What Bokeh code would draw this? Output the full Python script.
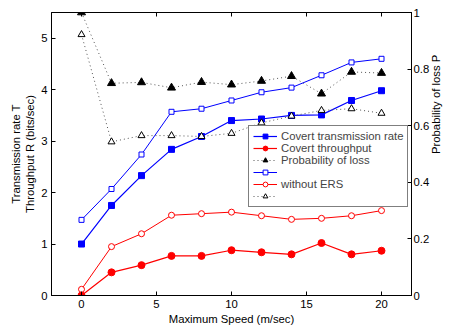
import math
from bokeh.plotting import figure
from bokeh.models import (Range1d, LinearAxis, FixedTicker, Legend, LegendItem, Label)
from bokeh.embed import file_html
from bokeh.resources import INLINE

# ---- data ----
speed = [0, 2, 4, 6, 8, 10, 12, 14, 16, 18, 20]
trans_ers = [1.00, 1.75, 2.33, 2.84, 3.09, 3.40, 3.43, 3.50, 3.51, 3.79, 3.98]
thr_ers = [0.00, 0.45, 0.59, 0.77, 0.77, 0.88, 0.84, 0.80, 1.02, 0.80, 0.87]
loss_ers = [1.00, 0.750, 0.753, 0.734, 0.754, 0.745, 0.758, 0.775, 0.713, 0.790, 0.786]
trans_no = [1.47, 2.07, 2.74, 3.57, 3.63, 3.79, 3.95, 4.04, 4.28, 4.53, 4.60]
thr_no = [0.12, 0.95, 1.20, 1.56, 1.59, 1.62, 1.55, 1.48, 1.50, 1.55, 1.65]
loss_no = [0.922, 0.543, 0.565, 0.565, 0.562, 0.573, 0.610, 0.634, 0.654, 0.660, 0.644]

x_ticks = [0, 5, 10, 15, 20]
y_ticks = [0, 1, 2, 3, 4, 5]
prob_ticks = [0, 0.2, 0.4, 0.6, 0.8, 1]
prob_labels = ["0", "0.2", "0.4", "0.6", "0.8", "1"]

legend_labels = ["Covert transmission rate", "Covert throughput", "Probability of loss",
                 "", "without ERS", ""]

FONT = "Liberation Sans"
FS = "11.3px"

p = figure(width=451, height=329, x_range=Range1d(-2, 22), y_range=Range1d(0, 5.5),
           output_backend="svg", toolbar_location=None,
           min_border_left=51, min_border_right=40, min_border_top=12, min_border_bottom=34)
p.extra_y_ranges = {"prob": Range1d(0, 1)}
p.grid.visible = False
p.outline_line_color = "black"
p.outline_line_width = 1
p.background_fill_color = "white"
p.border_fill_color = "white"

def style_axis(ax):
    ax.major_tick_in = 4
    ax.major_tick_out = 0
    ax.minor_tick_line_color = None
    ax.axis_line_color = "black"
    ax.major_tick_line_color = "black"
    ax.major_label_text_font = FONT
    ax.major_label_text_font_size = FS
    ax.major_label_text_color = "black"
    ax.axis_label_text_font = FONT
    ax.axis_label_text_font_size = FS
    ax.axis_label_text_font_style = "normal"
    ax.axis_label_text_color = "black"

xa = p.xaxis[0]
style_axis(xa)
xa.ticker = FixedTicker(ticks=x_ticks)
xa.axis_label = "Maximum Speed (m/sec)"
xa.major_label_standoff = 4
xa.axis_label_standoff = 2

ya = p.yaxis[0]
style_axis(ya)
ya.ticker = FixedTicker(ticks=y_ticks)
ya.axis_label = "Transmission rate T\nThroughput R (bits/sec)"
ya.major_label_standoff = 4
ya.axis_label_standoff = 2

top = LinearAxis(ticker=FixedTicker(ticks=x_ticks))
style_axis(top)
top.major_label_overrides = {t: "" for t in x_ticks}
top.major_label_standoff = 0
p.add_layout(top, "above")

ra = LinearAxis(y_range_name="prob", ticker=FixedTicker(ticks=prob_ticks))
style_axis(ra)
ra.major_label_overrides = {t: l for t, l in zip(prob_ticks, prob_labels)}
ra.major_label_standoff = 2
if "axis_label_orientation" in LinearAxis.properties():
    ra.axis_label = "Probability of loss P"
    ra.axis_label_orientation = math.pi / 2
    ra.axis_label_standoff = 4
else:
    rlab = Label(x=24.15, y=2.75, text="Probability of loss P", angle=math.pi / 2,
                 text_align="center", text_baseline="middle",
                 text_font=FONT, text_font_size=FS, text_color="black")
    p.add_layout(rlab)
p.add_layout(ra, "right")

BLUE = "#0000ff"
RED = "#ff0000"
DOT = "#555555"

# with ERS
l1 = p.line(speed, trans_ers, line_color=BLUE, line_width=1.2)
m1 = p.scatter(speed, trans_ers, marker="square", size=6, fill_color=BLUE, line_color=BLUE)
l2 = p.line(speed, thr_ers, line_color=RED, line_width=1.2)
m2 = p.scatter(speed, thr_ers, marker="circle", size=7, fill_color=RED, line_color=RED)
l3 = p.line(speed, loss_ers, y_range_name="prob", line_color=DOT, line_width=1, line_dash="1 3")
m3 = p.scatter(speed, loss_ers, y_range_name="prob", marker="triangle", size=8,
               fill_color="black", line_color="black")
# without ERS
l4 = p.line(speed, trans_no, line_color=BLUE, line_width=1)
m4 = p.scatter(speed, trans_no, marker="square", size=5, fill_color="white", line_color=BLUE)
l5 = p.line(speed, thr_no, line_color=RED, line_width=1)
m5 = p.scatter(speed, thr_no, marker="circle", size=6, fill_color="white", line_color=RED)
l6 = p.line(speed, loss_no, y_range_name="prob", line_color=DOT, line_width=1, line_dash="1 3")
m6 = p.scatter(speed, loss_no, y_range_name="prob", marker="triangle", size=7,
               fill_color="white", line_color="black")

rends = [(l1, m1), (l2, m2), (l3, m3), (l4, m4), (l5, m5), (l6, m6)]
items = [LegendItem(label=lab, renderers=list(r)) for lab, r in zip(legend_labels, rends)]
leg = Legend(items=items, location=(197, 88), orientation="vertical")
leg.label_text_font = FONT
leg.label_text_font_size = FS
leg.label_height = 12
leg.glyph_height = 12
leg.glyph_width = 24
leg.label_standoff = 4
leg.spacing = 0
leg.padding = 4
leg.margin = 0
leg.border_line_color = "black"
leg.border_line_width = 1
leg.background_fill_color = "white"
leg.background_fill_alpha = 1
p.add_layout(leg, "center")

open("out.html", "w").write(file_html(p, INLINE))
